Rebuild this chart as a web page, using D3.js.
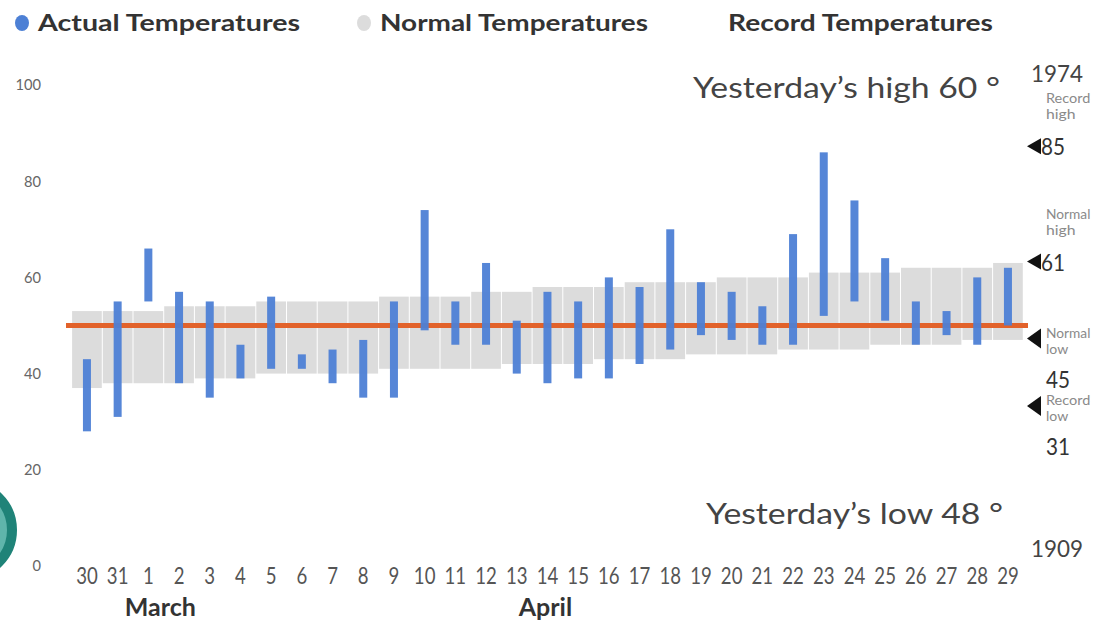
<!DOCTYPE html>
<html>
<head>
<meta charset="utf-8">
<script src="https://cdn.jsdelivr.net/npm/d3@7"></script>
<style>
  body { margin: 0; background: #fff; }
  #chart { width: 1111px; height: 621px; }
  .axis text { font-family: Lato, sans-serif; }
  .axis path, .axis line { display: none; }
</style>
</head>
<body>
<div id="chart"></div>
<script>
const days = ["30","31","1","2","3","4","5","6","7","8","9","10","11","12","13","14","15","16","17","18","19","20","21","22","23","24","25","26","27","28","29"];
const actualHigh = [43,55,66,57,55,46,56,44,45,47,55,74,55,63,51,57,55,60,58,70,59,57,54,69,86,76,64,55,53,60,62];
const actualLow  = [28,31,55,38,35,39,41,41,38,35,35,49,46,46,40,38,39,39,42,45,48,47,46,46,52,55,51,46,48,46,50];
const normalHigh = [53,53,53,54,54,54,55,55,55,55,56,56,56,57,57,58,58,58,59,59,59,60,60,60,61,61,61,62,62,62,63];
const normalLow  = [37,38,38,38,39,39,40,40,40,40,41,41,41,41,42,42,42,43,43,43,44,44,44,45,45,45,46,46,46,47,47];
const yTicks = [0,20,40,60,80,100];
const refLine = 50;
const months = [{ name: "March", day: "1" }, { name: "April", day: "14" }];
const legendItems = ["Actual Temperatures", "Normal Temperatures", "Record Temperatures"];
const markers = [
  { value: 85, label: ["Record", "high"], num: "85" },
  { value: 61, label: ["Normal", "high"], num: "61" },
  { value: 45, label: ["Normal", "low"], num: "45" },
  { value: 31, label: ["Record", "low"], num: "31" }
];
const yesterday = { high: 60, low: 48, highYear: "1974", lowYear: "1909" };

const data = days.map((d, i) => ({
  day: d, hi: actualHigh[i], lo: actualLow[i], nHi: normalHigh[i], nLo: normalLow[i]
}));

const width = 1111, height = 621;
const blue = "#4d80d5", gray = "#dcdcdc", orange = "#e2622a";
const font = "Lato, sans-serif";

const svg = d3.select("#chart").append("svg")
  .attr("width", width)
  .attr("height", height);

const x = d3.scaleBand()
  .domain(days)
  .range([71.6, 1023.3])
  .padding(0);

const y = d3.scaleLinear()
  .domain([0, 100])
  .range([566, 85]);

// squeeze text to a narrow look (the original uses a condensed face)
function narrow(sel, perChar) {
  sel.attr("textLength", function () { return this.textContent.length * perChar; })
    .attr("lengthAdjust", "spacingAndGlyphs");
}

// teal badge partly off the left edge
svg.append("circle").attr("cx", -34).attr("cy", 530).attr("r", 46)
  .attr("fill", "#5fb5ab").attr("stroke", "#1f8378").attr("stroke-width", 10);

// normal band
svg.append("g").selectAll("rect")
  .data(data)
  .join("rect")
  .attr("x", d => x(d.day) + 0.5)
  .attr("width", x.bandwidth() - 1)
  .attr("y", d => y(d.nHi))
  .attr("height", d => y(d.nLo) - y(d.nHi))
  .attr("fill", gray);

// reference line
svg.append("line")
  .attr("x1", 66).attr("x2", 1028)
  .attr("y1", y(refLine)).attr("y2", y(refLine))
  .attr("stroke", orange).attr("stroke-width", 5);

// actual temps
svg.append("g").selectAll("rect")
  .data(data)
  .join("rect")
  .attr("x", d => x(d.day) + x.bandwidth() / 2 - 4)
  .attr("width", 8)
  .attr("y", d => y(d.hi))
  .attr("height", d => y(d.lo) - y(d.hi))
  .attr("fill", blue)
  .attr("opacity", 0.95);

// y axis
svg.append("g")
  .attr("class", "axis")
  .attr("transform", "translate(41,0)")
  .call(d3.axisLeft(y).tickValues(yTicks).tickSize(0).tickPadding(0))
  .selectAll("text")
  .attr("fill", "#666")
  .attr("font-size", 15)
  .call(narrow, 8.5);

// x axis
svg.append("g")
  .attr("class", "axis")
  .attr("transform", "translate(0,567)")
  .call(d3.axisBottom(x).tickSize(0).tickPadding(0))
  .selectAll("text")
  .attr("fill", "#555")
  .attr("font-size", 24)
  .call(narrow, 10.8);

// months
svg.append("g").selectAll("text")
  .data(months)
  .join("text")
  .attr("x", (d, i) => x(d.day) + x.bandwidth() / 2 + (i === 0 ? 12 : -2))
  .attr("y", 616)
  .attr("text-anchor", "middle")
  .attr("font-family", font)
  .attr("font-weight", "bold")
  .attr("font-size", 25)
  .attr("fill", "#333")
  .text(d => d.name);

// legend
const legendX = [38, 380, 728];
const legendW = [262, 268, 265];
const legendDot = [blue, gray, null];
const legend = svg.append("g");
legendItems.forEach((t, i) => {
  if (legendDot[i]) {
    legend.append("ellipse").attr("cx", legendX[i] - 16).attr("cy", 23).attr("rx", 7).attr("ry", 8)
      .attr("fill", legendDot[i]);
  }
  legend.append("text")
    .attr("x", legendX[i]).attr("y", 31)
    .attr("font-family", font)
    .attr("font-weight", "bold")
    .attr("font-size", 22)
    .attr("fill", "#333")
    .attr("textLength", legendW[i])
    .attr("lengthAdjust", "spacingAndGlyphs")
    .text(t);
});

// yesterday labels
svg.append("text")
  .attr("x", 693).attr("y", 98)
  .attr("font-family", font).attr("font-size", 28).attr("fill", "#444")
  .attr("textLength", 307).attr("lengthAdjust", "spacingAndGlyphs")
  .text(`Yesterday’s high ${yesterday.high} °`);
svg.append("text")
  .attr("x", 706).attr("y", 524)
  .attr("font-family", font).attr("font-size", 28).attr("fill", "#444")
  .attr("textLength", 297).attr("lengthAdjust", "spacingAndGlyphs")
  .text(`Yesterday’s low ${yesterday.low} °`);

// record years
[[yesterday.highYear, 82], [yesterday.lowYear, 557]].forEach(([t, yy]) => {
  svg.append("text").attr("x", 1031).attr("y", yy)
    .attr("font-family", font).attr("font-size", 23).attr("fill", "#444")
    .text(t).call(narrow, 13);
});

// right-hand markers
const side = svg.append("g");
markers.forEach((m, i) => {
  const my = y(m.value) - 11;
  const high = i < 2;
  const h = high ? 8 : 10;
  side.append("path")
    .attr("d", `M${1027},${my} L${1041},${my - h} L${1041},${my + h} Z`)
    .attr("fill", "#111");
  const lines = high ? [my - 47, my - 31] : [my - 5, my + 11];
  m.label.forEach((l, j) => {
    side.append("text").attr("x", 1046).attr("y", lines[j] + 4)
      .attr("font-family", font).attr("font-size", 13).attr("fill", "#8a8a8a")
      .text(l).call(narrow, 7.4);
  });
  side.append("text")
    .attr("x", high ? 1041 : 1046)
    .attr("y", high ? my + 9 : my + 49)
    .attr("font-family", font).attr("font-size", 23).attr("fill", "#333")
    .text(m.num).call(narrow, 12);
});
</script>
</body>
</html>
